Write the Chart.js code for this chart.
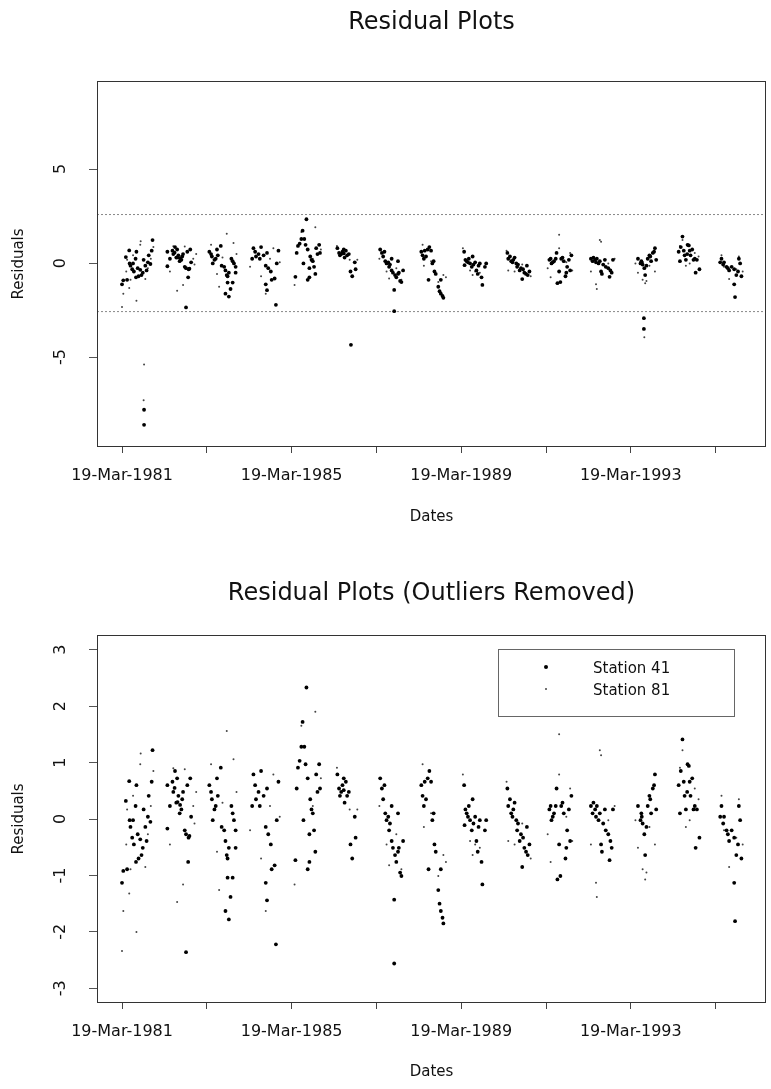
<!DOCTYPE html>
<html>
<head>
<meta charset="utf-8">
<script src="https://cdn.jsdelivr.net/npm/chart.js@4.4.1/dist/chart.umd.min.js"></script>
<style>
  html, body { margin: 0; padding: 0; background: #fff; }
  #wrap { position: relative; width: 771px; height: 1089px; }
  canvas { position: absolute; left: 0; }
  #topChart { top: 0; }
  #bottomChart { top: 540px; }
</style>
</head>
<body>
<div id="wrap">
  <canvas id="topChart" width="771" height="540"></canvas>
  <canvas id="bottomChart" width="771" height="549"></canvas>
</div>
<script>
// ===== DATA =====
// dates are decimal years, residuals in the same units as the plot
const marchOffset = 77 / 365; // 19 March
const tickYears = [1981, 1983, 1985, 1987, 1989, 1991, 1993, 1995];
const labelYears = [1981, 1985, 1989, 1993];
const topYTicks = [-5, 0, 5];
const bottomYTicks = [-3, -2, -1, 0, 1, 2, 3];
const cutoffs = [2.58, -2.58];

// Station 41: [date, residual]
const station41 = [
  [1981.21,-1.13],[1981.24,-0.92],[1981.33,-0.89],[1981.30,0.32],[1981.38,0.67],[1981.41,-0.14],[1981.47,-0.02],[1981.45,-0.33],[1981.49,-0.45],[1981.53,0.23],[1981.55,0.60],[1981.58,-0.27],[1981.64,-0.36],[1981.70,-0.51],[1981.67,-0.64],[1981.60,-0.70],[1981.72,0.17],[1981.76,-0.14],[1981.82,0.04],[1981.84,0.41],[1981.88,-0.05],[1981.93,1.22],[1981.91,0.66],[1981.79,-0.39],[1981.54,-0.76],[1981.39,-0.02],
  [1982.28,0.60],[1982.34,0.23],[1982.40,0.66],[1982.42,0.48],[1982.46,0.85],[1982.49,0.29],[1982.54,0.41],[1982.57,0.10],[1982.61,0.17],[1982.63,0.35],[1982.65,0.48],[1982.69,-0.20],[1982.72,-0.27],[1982.75,0.60],[1982.77,-0.76],[1982.78,-0.33],[1982.82,0.72],[1982.84,0.04],[1982.72,-2.36],[1982.28,-0.17],[1982.51,0.72],[1982.45,0.55],[1982.52,0.30],[1982.58,0.25],[1982.80,-0.30],
  [1983.27,0.60],[1983.31,0.48],[1983.33,0.35],[1983.35,-0.02],[1983.39,0.17],[1983.42,0.23],[1983.45,0.72],[1983.47,0.41],[1983.54,0.91],[1983.56,-0.14],[1983.62,-0.20],[1983.65,-0.39],[1983.68,-0.64],[1983.70,-0.70],[1983.73,-0.51],[1983.77,-1.38],[1983.79,0.23],[1983.82,0.10],[1983.85,-0.02],[1983.89,-0.51],[1983.70,-1.04],[1983.82,-1.04],[1983.73,-1.78],[1983.65,-1.63],[1983.89,-0.20],
  [1984.28,0.23],[1984.31,0.79],[1984.35,0.60],[1984.37,0.35],[1984.43,0.48],[1984.46,0.23],[1984.49,0.85],[1984.55,0.41],[1984.60,-0.14],[1984.63,0.54],[1984.66,-0.27],[1984.72,-0.45],[1984.74,-0.89],[1984.81,-0.82],[1984.84,-2.22],[1984.86,-0.02],[1984.90,0.66],[1984.63,-1.44],[1984.60,-1.13],
  [1985.30,-0.73],[1985.33,0.54],[1985.36,0.91],[1985.40,1.03],[1985.44,1.28],[1985.47,1.72],[1985.51,1.28],[1985.54,0.97],[1985.56,2.33],[1985.59,0.72],[1985.63,-0.27],[1985.65,0.35],[1985.68,0.17],[1985.71,0.10],[1985.74,-0.20],[1985.77,-0.58],[1985.79,0.79],[1985.82,0.48],[1985.86,0.97],[1985.88,0.54],[1985.59,-0.89],[1985.63,-0.76],[1985.49,-0.02],
  [1986.29,0.79],[1986.33,0.54],[1986.35,0.41],[1986.38,0.48],[1986.41,0.60],[1986.44,0.51],[1986.46,0.29],[1986.49,0.66],[1986.52,0.41],[1986.56,0.48],[1986.60,-0.45],[1986.64,-0.70],[1986.70,0.04],[1986.72,-0.33],[1986.44,0.72],
  [1987.30,0.72],[1987.34,0.54],[1987.37,0.35],[1987.40,0.60],[1987.42,0.10],[1987.45,-0.02],[1987.49,0.04],[1987.51,-0.20],[1987.53,-0.08],[1987.57,-0.39],[1987.60,-0.51],[1987.63,-1.43],[1987.65,-0.64],[1987.68,-0.76],[1987.72,-0.58],[1987.74,-0.51],[1987.77,-0.95],[1987.80,-1.01],[1987.63,-2.56],[1987.57,0.23],[1987.72,0.10],[1987.84,-0.39],
  [1988.27,0.60],[1988.30,0.41],[1988.33,0.23],[1988.35,0.66],[1988.38,0.35],[1988.42,0.72],[1988.46,0.85],[1988.50,0.66],[1988.53,-0.02],[1988.56,0.10],[1988.58,-0.45],[1988.61,-0.58],[1988.44,-0.89],[1988.67,-1.26],[1988.70,-1.50],[1988.73,-1.63],[1988.77,-1.75],[1988.79,-1.85],[1988.73,-0.89],
  [1989.28,0.60],[1989.31,0.17],[1989.34,0.10],[1989.37,0.04],[1989.39,0.23],[1989.42,-0.02],[1989.46,-0.20],[1989.48,0.35],[1989.50,-0.08],[1989.54,0.04],[1989.57,-0.39],[1989.60,-0.58],[1989.62,-0.14],[1989.65,-0.02],[1989.69,-0.76],[1989.71,-1.16],[1989.77,-0.20],[1989.80,-0.02],[1989.29,-0.11],
  [1990.30,0.54],[1990.32,0.23],[1990.36,0.35],[1990.39,0.10],[1990.42,0.04],[1990.44,0.17],[1990.47,0.29],[1990.51,-0.02],[1990.53,-0.20],[1990.55,-0.08],[1990.59,-0.39],[1990.62,-0.27],[1990.65,-0.85],[1990.67,-0.33],[1990.70,-0.51],[1990.74,-0.58],[1990.76,-0.14],[1990.78,-0.64],[1990.82,-0.45],
  [1991.29,0.17],[1991.32,0.23],[1991.34,-0.02],[1991.37,0.04],[1991.40,0.10],[1991.44,0.23],[1991.46,0.54],[1991.48,-1.07],[1991.52,-0.45],[1991.55,-1.01],[1991.57,0.23],[1991.60,0.29],[1991.63,0.10],[1991.67,-0.70],[1991.69,-0.51],[1991.71,-0.20],[1991.75,0.17],[1991.78,-0.39],[1991.81,0.41],
  [1992.27,0.23],[1992.31,0.10],[1992.33,0.29],[1992.37,0.17],[1992.39,0.04],[1992.41,0.23],[1992.45,-0.02],[1992.48,0.10],[1992.51,-0.45],[1992.53,-0.58],[1992.56,-0.08],[1992.60,0.17],[1992.62,-0.20],[1992.68,-0.27],[1992.71,-0.73],[1992.73,-0.39],[1992.76,-0.51],[1992.79,0.17],
  [1993.38,0.23],[1993.44,-0.02],[1993.47,0.04],[1993.49,-0.08],[1993.53,-0.27],[1993.55,-0.64],[1993.58,-0.14],[1993.61,0.23],[1993.65,0.41],[1993.67,0.35],[1993.69,0.10],[1993.73,0.54],[1993.76,0.60],[1993.78,0.79],[1993.81,0.17],[1993.46,0.10],
  [1994.34,0.60],[1994.37,0.10],[1994.39,0.85],[1994.43,1.41],[1994.46,0.66],[1994.48,0.41],[1994.51,0.17],[1994.54,0.48],[1994.58,0.94],[1994.60,0.66],[1994.62,0.41],[1994.66,0.72],[1994.69,0.17],[1994.72,0.23],[1994.74,-0.51],[1994.77,0.17],[1994.83,-0.33],[1994.55,0.97],
  [1995.32,0.04],[1995.35,0.23],[1995.39,-0.08],[1995.41,0.04],[1995.47,-0.20],[1995.50,-0.27],[1995.53,-0.39],[1995.59,-0.20],[1995.65,-1.13],[1995.67,-1.81],[1995.70,-0.64],[1995.74,-0.45],[1995.76,0.23],[1995.79,-0.02],[1995.82,-0.70],[1995.65,-0.33]
];

// Station 81: [date, residual]
const station81 = [
  [1981.21,-2.34],[1981.24,-1.63],[1981.31,-0.45],[1981.38,-1.32],[1981.41,-0.89],[1981.55,-2.00],[1981.65,1.16],[1981.64,0.97],[1981.47,0.41],[1981.76,-0.85],[1981.82,-0.27],[1981.95,0.85],[1981.89,0.23],[1981.33,0.17],
  [1982.34,-0.45],[1982.42,0.90],[1982.69,0.88],[1982.65,-1.16],[1982.51,-1.47],[1982.89,0.23],[1982.92,-0.08],[1982.96,0.48],
  [1983.31,0.97],[1983.45,-0.58],[1983.50,-1.26],[1983.68,1.56],[1983.84,1.06],[1983.91,0.48],[1983.58,0.29],
  [1984.23,-0.20],[1984.49,-0.70],[1984.60,-1.63],[1984.78,0.79],[1984.70,0.23],[1984.93,0.04],
  [1985.28,-1.16],[1985.44,1.65],[1985.77,1.90],[1985.71,0.23],[1985.90,0.72],[1985.88,0.97],
  [1986.28,0.91],[1986.58,0.17],[1986.76,0.17],
  [1987.28,0.23],[1987.45,-0.45],[1987.51,-0.82],[1987.68,-0.27],[1987.80,-0.89],
  [1988.30,0.97],[1988.33,-0.14],[1988.50,0.10],[1988.79,-0.64],[1988.67,-1.01],[1988.85,-0.76],
  [1989.25,0.79],[1989.42,-0.39],[1989.48,-0.64],[1989.54,-0.45],[1989.65,-0.51],
  [1990.28,0.66],[1990.32,-0.39],[1990.47,-0.45],[1990.65,-0.08],[1990.85,-0.70],
  [1991.25,-0.27],[1991.32,-0.76],[1991.52,1.50],[1991.52,0.79],[1991.69,0.04],[1991.78,0.54],[1991.83,-0.39],
  [1992.41,-1.38],[1992.39,-1.13],[1992.48,1.22],[1992.51,1.13],[1992.68,-0.02],[1992.83,0.23],[1992.27,-0.45],
  [1993.32,-0.02],[1993.38,-0.51],[1993.49,-0.89],[1993.55,-1.07],[1993.58,-0.95],[1993.65,-0.14],[1993.78,-0.45],
  [1994.37,0.91],[1994.43,1.22],[1994.51,-0.14],[1994.60,-0.02],[1994.72,0.54],[1994.81,0.35],
  [1995.35,0.41],[1995.41,-0.20],[1995.53,-0.85],[1995.70,-0.33],[1995.76,0.35],[1995.85,-0.45]
];

// outliers shown only in the first plot
const outliers41 = [[1981.73,-7.8],[1981.73,-8.6],[1986.61,-4.35],[1993.52,-2.93],[1993.52,-3.5]];
const outliers81 = [[1981.73,-5.4],[1981.72,-7.3],[1993.53,-3.94]];

// ===== SETUP =====
const FONT = '"DejaVu Sans", sans-serif';
const xMin = 1980.62;
const xMax = 1996.40;

const toPoints = (rows) => rows.map(([d, r]) => ({ x: d, y: r }));

const style41 = { pointRadius: 1.9, pointBackgroundColor: "#000", pointBorderWidth: 0 };
const style81 = { pointRadius: 1.0, pointBackgroundColor: "#444", pointBorderWidth: 0 };

function decorPlugin(cfg) {
  return {
    id: "decor",
    afterDraw(chart) {
      const ctx = chart.ctx;
      const a = chart.chartArea;
      const cx = (a.left + a.right) / 2;
      ctx.save();
      // box
      ctx.strokeStyle = "#333";
      ctx.lineWidth = 1;
      ctx.strokeRect(Math.round(a.left) + 0.5, Math.round(a.top) + 0.5,
        Math.round(a.right - a.left) - 1, Math.round(a.bottom - a.top) - 1);
      // titles
      ctx.fillStyle = "#111";
      ctx.textAlign = "center";
      ctx.textBaseline = "alphabetic";
      ctx.font = "24px " + FONT;
      ctx.fillText(cfg.title, cx, cfg.titleY);
      ctx.font = "15px " + FONT;
      ctx.fillText("Dates", cx, cfg.datesY);
      ctx.save();
      ctx.translate(23, (a.top + a.bottom) / 2);
      ctx.rotate(-Math.PI / 2);
      ctx.fillText("Residuals", 0, 0);
      ctx.restore();
      // legend
      if (cfg.legend) {
        const L = cfg.legend;
        ctx.strokeStyle = "#666";
        ctx.strokeRect(L.x + 0.5, L.y + 0.5, L.w, L.h);
        ctx.textAlign = "left";
        ctx.font = "15px " + FONT;
        L.items.forEach((item, i) => {
          const y = L.y + 18 + i * 22;
          ctx.fillStyle = item.color;
          ctx.beginPath();
          ctx.arc(L.x + 48, y, item.radius, 0, Math.PI * 2);
          ctx.fill();
          ctx.fillStyle = "#111";
          ctx.fillText(item.label, L.x + 95, y + 5.5);
        });
      }
      ctx.restore();
    },
  };
}

function makeChart(id, datasets, yMin, yMax, yTicks, padding, cfg) {
  return new Chart(document.getElementById(id), {
    type: "scatter",
    data: { datasets },
    options: {
      responsive: false,
      animation: false,
      devicePixelRatio: 1,
      events: [],
      layout: { padding },
      plugins: { legend: { display: false }, tooltip: { enabled: false } },
      scales: {
        x: {
          type: "linear",
          position: "bottom",
          min: xMin,
          max: xMax,
          afterBuildTicks: (scale) => {
            scale.ticks = tickYears.map((y) => ({ value: y + marchOffset }));
          },
          afterFit: (scale) => { scale.height = 60; },
          grid: { display: true, drawOnChartArea: false, drawTicks: true, tickLength: 6, color: "#444" },
          border: { display: false },
          ticks: {
            autoSkip: false,
            maxRotation: 0,
            padding: 13,
            color: "#111",
            font: { family: FONT, size: 16 },
            callback: (value) => {
              const year = Math.round(value - marchOffset);
              return labelYears.includes(year) ? "19-Mar-" + year : "";
            },
          },
        },
        y: {
          type: "linear",
          position: "left",
          min: yMin,
          max: yMax,
          afterBuildTicks: (scale) => {
            scale.ticks = yTicks.map((v) => ({ value: v }));
          },
          afterFit: (scale) => { scale.width = 92; },
          grid: { display: true, drawOnChartArea: false, drawTicks: true, tickLength: 8, color: "#555" },
          border: { display: false },
          ticks: {
            minRotation: 90,
            maxRotation: 90,
            crossAlign: "center",
            padding: 20,
            color: "#111",
            font: { family: FONT, size: 16 },
            callback: (value) => String(value),
          },
        },
      },
    },
    plugins: [decorPlugin(cfg)],
  });
}

// ===== TOP: all residuals =====
const cutoffSets = cutoffs.map((c) => ({
  type: "line",
  data: [{ x: xMin, y: c }, { x: xMax, y: c }],
  borderColor: "#888",
  borderWidth: 1,
  borderDash: [2, 2],
  pointRadius: 0,
  fill: false,
}));

makeChart(
  "topChart",
  [
    { label: "Station 41", data: toPoints(station41.concat(outliers41)), ...style41 },
    { label: "Station 81", data: toPoints(station81.concat(outliers81)), ...style81 },
    ...cutoffSets,
  ],
  -9.78, 9.68, topYTicks,
  { left: 5, right: 5, top: 81, bottom: 33 },
  { title: "Residual Plots", titleY: 28.5, datesY: 520.5 }
);

// ===== BOTTOM: outliers removed =====
makeChart(
  "bottomChart",
  [
    { label: "Station 41", data: toPoints(station41), ...style41 },
    { label: "Station 81", data: toPoints(station81), ...style81 },
  ],
  -3.26, 3.26, bottomYTicks,
  { left: 5, right: 5, top: 95, bottom: 26 },
  {
    title: "Residual Plots (Outliers Removed)",
    titleY: 60,
    datesY: 535.5,
    legend: {
      x: 498, y: 109, w: 236, h: 67,
      items: [
        { label: "Station 41", color: "#000", radius: 2 },
        { label: "Station 81", color: "#444", radius: 1 },
      ],
    },
  }
);
</script>
</body>
</html>
